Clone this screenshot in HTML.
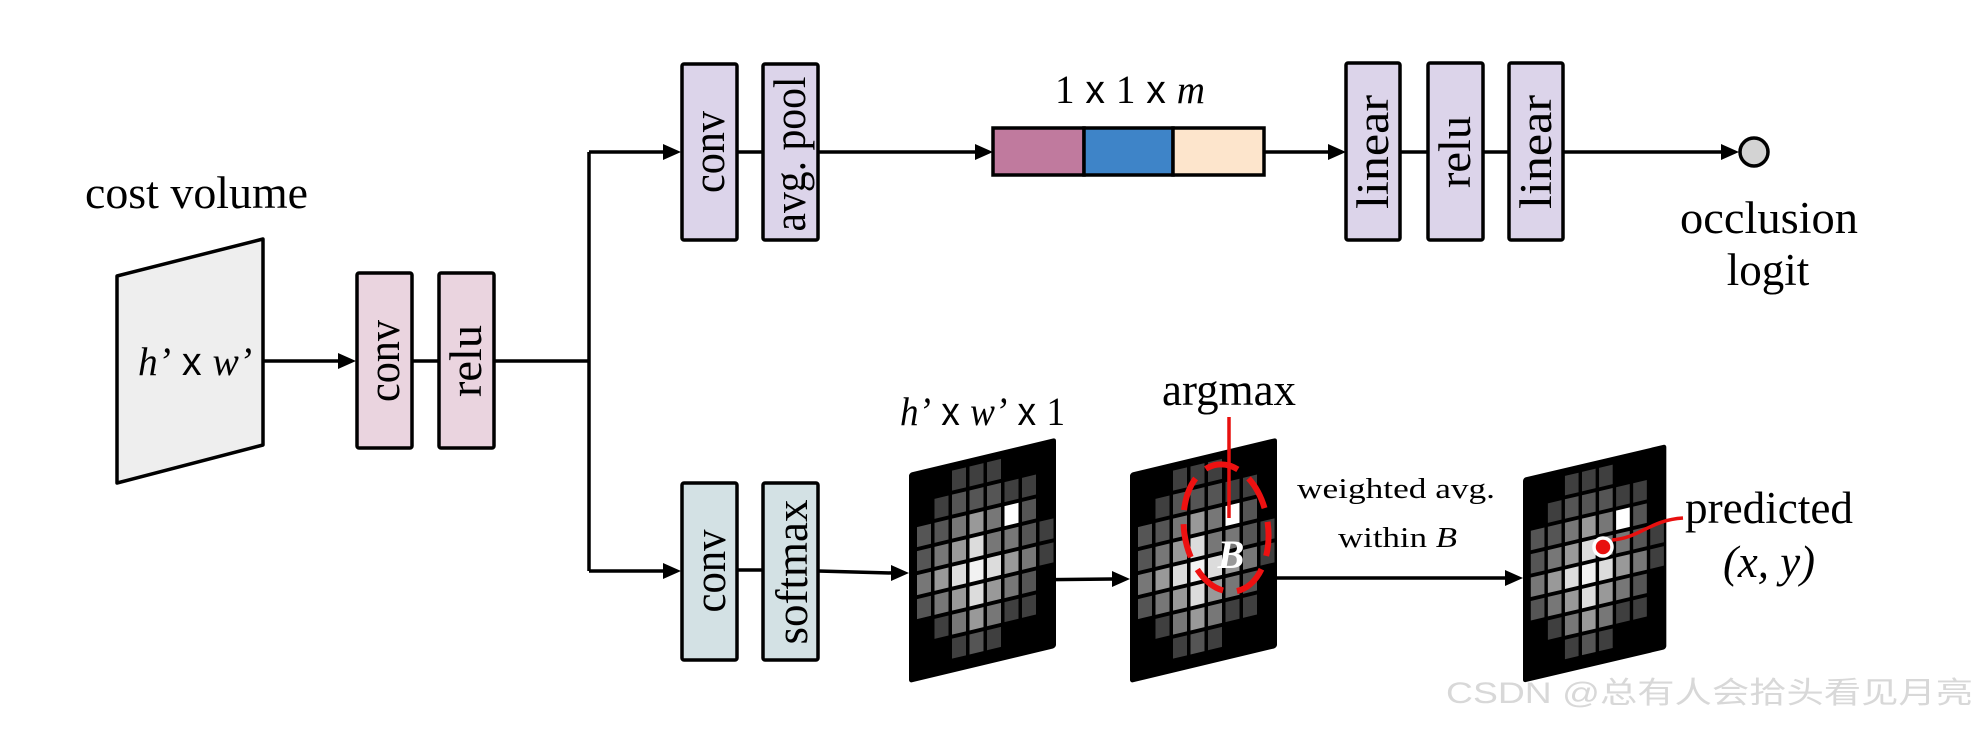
<!DOCTYPE html>
<html><head><meta charset="utf-8"><style>
html,body{margin:0;padding:0;background:#fff;}
svg{display:block;}
text{font-family:"Liberation Serif",serif;fill:#000;}
.s{font-family:"Liberation Sans",sans-serif;}
</style></head><body>
<svg width="1980" height="730" viewBox="0 0 1980 730" xmlns="http://www.w3.org/2000/svg">

<!-- cost volume -->
<text x="85" y="208" font-size="45" textLength="223" lengthAdjust="spacingAndGlyphs">cost volume</text>
<polygon points="117,276 263,239 263,445 117,483" fill="#eeeeee" stroke="#000" stroke-width="3.5" stroke-linejoin="round"/>
<text x="138" y="375" font-size="40" textLength="114" lengthAdjust="spacingAndGlyphs"><tspan font-style="italic">h’</tspan><tspan class="s" font-size="40"> x </tspan><tspan font-style="italic">w’</tspan></text>

<!-- lines -->
<g stroke="#000" stroke-width="3.5" fill="none">
<line x1="263" y1="361" x2="340" y2="361"/>
<line x1="412" y1="361" x2="439" y2="361"/>
<line x1="494" y1="361" x2="589" y2="361"/>
<line x1="589" y1="152" x2="589" y2="571"/>
<line x1="589" y1="152" x2="665" y2="152"/>
<line x1="589" y1="571" x2="665" y2="571"/>
<line x1="737" y1="152" x2="763" y2="152"/>
<line x1="818" y1="152" x2="976" y2="152"/>
<line x1="1264" y1="152" x2="1329" y2="152"/>
<line x1="1399" y1="152" x2="1428" y2="152"/>
<line x1="1483" y1="152" x2="1509" y2="152"/>
<line x1="1563" y1="152" x2="1722" y2="152"/>
<line x1="737" y1="570" x2="763" y2="570"/>
<line x1="818" y1="571" x2="892" y2="573"/>
<line x1="1010" y1="580" x2="1113" y2="579"/>
<line x1="1276" y1="578" x2="1506" y2="578"/>
</g>
<g fill="#000">
<polygon points="356,361 338,353 338,369"/>
<polygon points="681,152 663,144 663,160"/>
<polygon points="681,571 663,563 663,579"/>
<polygon points="993,152 975,144 975,160"/>
<polygon points="1346,152 1328,144 1328,160"/>
<polygon points="1739,152 1721,144 1721,160"/>
<polygon points="909,573 891,565 891,581"/>
<polygon points="1130,579 1112,571 1112,587"/>
<polygon points="1523,578 1505,570 1505,586"/>
</g>

<!-- boxes -->
<g stroke="#000" stroke-width="3.5">
<rect x="357" y="273" width="55" height="175" rx="2" fill="#ead4df"/>
<rect x="439" y="273" width="55" height="175" rx="2" fill="#ead4df"/>
<rect x="682" y="64" width="55" height="176" rx="2" fill="#dcd4ea"/>
<rect x="763" y="64" width="55" height="176" rx="2" fill="#dcd4ea"/>
<rect x="1346" y="63" width="54" height="177" rx="2" fill="#dcd4ea"/>
<rect x="1428" y="63" width="55" height="177" rx="2" fill="#dcd4ea"/>
<rect x="1509" y="63" width="54" height="177" rx="2" fill="#dcd4ea"/>
<rect x="682" y="483" width="55" height="177" rx="2" fill="#d3e1e4"/>
<rect x="763" y="483" width="55" height="177" rx="2" fill="#d3e1e4"/>
<rect x="993" y="128" width="91" height="47" fill="#c07a9e"/>
<rect x="1084" y="128" width="89" height="47" fill="#3e84c8"/>
<rect x="1173" y="128" width="91" height="47" fill="#fde5cc"/>
<circle cx="1754" cy="152" r="14" fill="#d3d3d3"/>
</g>

<g font-size="45">
<text transform="translate(399,361) rotate(-90)" text-anchor="middle" textLength="82" lengthAdjust="spacingAndGlyphs">conv</text>
<text transform="translate(481,361) rotate(-90)" text-anchor="middle" textLength="72" lengthAdjust="spacingAndGlyphs">relu</text>
<text transform="translate(724,152) rotate(-90)" text-anchor="middle" textLength="82" lengthAdjust="spacingAndGlyphs">conv</text>
<text transform="translate(805,154) rotate(-90)" text-anchor="middle" textLength="155" lengthAdjust="spacingAndGlyphs">avg. pool</text>
<text transform="translate(1388,152) rotate(-90)" text-anchor="middle" textLength="114" lengthAdjust="spacingAndGlyphs">linear</text>
<text transform="translate(1470,152) rotate(-90)" text-anchor="middle" textLength="72" lengthAdjust="spacingAndGlyphs">relu</text>
<text transform="translate(1551,152) rotate(-90)" text-anchor="middle" textLength="114" lengthAdjust="spacingAndGlyphs">linear</text>
<text transform="translate(725,571) rotate(-90)" text-anchor="middle" textLength="83" lengthAdjust="spacingAndGlyphs">conv</text>
<text transform="translate(807,572) rotate(-90)" text-anchor="middle" textLength="145" lengthAdjust="spacingAndGlyphs">softmax</text>
</g>

<text x="1055" y="103" font-size="40" textLength="150" lengthAdjust="spacingAndGlyphs">1<tspan class="s" font-size="40"> x </tspan>1<tspan class="s" font-size="40"> x </tspan><tspan font-style="italic">m</tspan></text>
<text x="1680" y="233" font-size="45" textLength="178" lengthAdjust="spacingAndGlyphs">occlusion</text>
<text x="1768" y="285" font-size="45" text-anchor="middle">logit</text>

<!-- grids -->
<g id="g1" transform="matrix(1,-0.24,0,1,909,473)"></g>
<g id="g2" transform="matrix(1,-0.24,0,1,1130,473)"></g>
<g id="g3" transform="matrix(0.975,-0.23,0,0.975,1523,478)"></g>

<text x="900" y="425" font-size="40" textLength="165" lengthAdjust="spacingAndGlyphs"><tspan font-style="italic">h’</tspan><tspan class="s" font-size="40"> x </tspan><tspan font-style="italic">w’</tspan><tspan class="s" font-size="40"> x </tspan>1</text>
<text x="1162" y="405" font-size="45" textLength="134" lengthAdjust="spacingAndGlyphs">argmax</text>
<line x1="1229" y1="417" x2="1229" y2="518" stroke="#e8100f" stroke-width="3.5"/>
<ellipse cx="1226" cy="528" rx="42" ry="64" transform="rotate(-8 1226 528)" fill="none" stroke="#ee1111" stroke-width="6" stroke-dasharray="34,14"/>
<text x="1231" y="568" font-size="40" font-weight="bold" font-style="italic" text-anchor="middle" style="fill:#fff">B</text>

<text x="1297" y="498" font-size="28" textLength="198" lengthAdjust="spacingAndGlyphs">weighted avg.</text>
<text x="1338" y="547" font-size="28" textLength="119" lengthAdjust="spacingAndGlyphs">within <tspan font-style="italic">B</tspan></text>

<path d="M1612,540 C1640,538 1650,520 1683,518" fill="none" stroke="#e8100f" stroke-width="3.5"/>
<circle cx="1603" cy="547" r="9" fill="#e8100f" stroke="#fff" stroke-width="3.5"/>
<text x="1685" y="523" font-size="45" textLength="168" lengthAdjust="spacingAndGlyphs">predicted</text>
<text x="1723" y="577" font-size="45" font-style="italic" textLength="92" lengthAdjust="spacingAndGlyphs">(x, y)</text>

<text x="1446" y="703" font-size="30" class="s" textLength="527" lengthAdjust="spacingAndGlyphs" style="fill:#d8d8d8;font-family:'Liberation Sans','Noto Sans CJK SC',sans-serif;">CSDN @总有人会拾头看见月亮</text>
</svg>
<script>
var pat={
0:{2:'b',3:'b',4:'c',5:'b'},
1:{1:'a',2:'b',3:'c',4:'d',5:'c',6:'a'},
2:{0:'a',1:'b',2:'c',3:'d',4:'f',5:'d',6:'c',7:'a'},
3:{0:'a',1:'b',2:'d',3:'f',4:'g',5:'f',6:'d',7:'b'},
4:{0:'a',1:'b',2:'c',3:'c',4:'f',5:'d',6:'c',7:'a'},
5:{1:'a',2:'W',3:'c',4:'d',5:'c',6:'a'},
6:{1:'a',2:'b',3:'b',4:'c',5:'b',6:'a'},
7:{3:'a',4:'a'}};
var col={a:'#3f3f3f',b:'#555',c:'#777',d:'#999',e:'#bbb',f:'#dcdcdc',g:'#f2f2f2',W:'#fff'};
var NS='http://www.w3.org/2000/svg';
['g1','g2','g3'].forEach(function(id){
 var g=document.getElementById(id);
 var r=document.createElementNS(NS,'rect');
 r.setAttribute('x',0);r.setAttribute('y',0);r.setAttribute('width',147);r.setAttribute('height',210);r.setAttribute('rx',3);r.setAttribute('fill','#000');
 g.appendChild(r);
 for(var c in pat){for(var rr in pat[c]){
  var e=document.createElementNS(NS,'rect');
  e.setAttribute('x',8+c*17.5);e.setAttribute('y',8+rr*24);
  e.setAttribute('width',14);e.setAttribute('height',20);
  e.setAttribute('fill',col[pat[c][rr]]);g.appendChild(e);
 }}
});
</script>
</body></html>
